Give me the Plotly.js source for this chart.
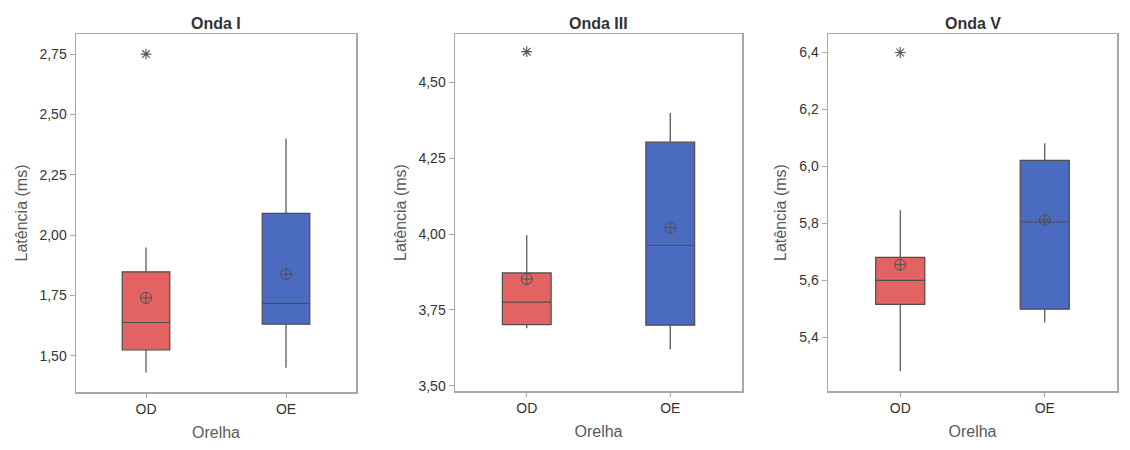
<!DOCTYPE html>
<html>
<head>
<meta charset="utf-8">
<script src="https://cdn.plot.ly/plotly-3.0.1.min.js"></script>
<style>
  html, body { margin: 0; padding: 0; background: #ffffff; }
  #chart { width: 1130px; height: 450px; }
  #edge { position: absolute; left: 5px; top: 6px; width: 1px; height: 436px; background: #fbf5b8; }
</style>
</head>
<body>
<div id="edge"></div>
<div id="chart"></div>
<script>
// ---- data ----
const ears = ['OD', 'OE'];
const waveTitles = ['Onda I', 'Onda III', 'Onda V'];

const ondaI_q1     = [1.524, 1.631];
const ondaI_median = [1.638, 1.717];
const ondaI_q3     = [1.848, 2.090];
const ondaI_low    = [1.431, 1.450];
const ondaI_high   = [1.949, 2.400];
const ondaI_mean   = [1.740, 1.838];
const ondaI_outX   = ['OD'];
const ondaI_outY   = [2.75];

const ondaIII_q1     = [3.702, 3.700];
const ondaIII_median = [3.776, 3.963];
const ondaIII_q3     = [3.872, 4.302];
const ondaIII_low    = [3.690, 3.620];
const ondaIII_high   = [3.996, 4.398];
const ondaIII_mean   = [3.852, 4.021];
const ondaIII_outX   = ['OD'];
const ondaIII_outY   = [4.60];

const ondaV_q1     = [5.516, 5.499];
const ondaV_median = [5.600, 5.805];
const ondaV_q3     = [5.681, 6.021];
const ondaV_low    = [5.282, 5.452];
const ondaV_high   = [5.847, 6.081];
const ondaV_mean   = [5.655, 5.812];
const ondaV_outX   = ['OD'];
const ondaV_outY   = [6.40];

const earColors = ['#e36262', '#4a6bc0'];

// ---- build ----
const W = 1130, H = 450;
const panels = [
  {q1: ondaI_q1, med: ondaI_median, q3: ondaI_q3, lo: ondaI_low, hi: ondaI_high, mean: ondaI_mean, ox: ondaI_outX, oy: ondaI_outY,
   px: [76, 356], py: [34, 392], range: [1.35, 2.833], tick0: 1.5, dtick: 0.25, fmt: '.2f'},
  {q1: ondaIII_q1, med: ondaIII_median, q3: ondaIII_q3, lo: ondaIII_low, hi: ondaIII_high, mean: ondaIII_mean, ox: ondaIII_outX, oy: ondaIII_outY,
   px: [455, 742], py: [34, 391], range: [3.4835, 4.658], tick0: 3.5, dtick: 0.25, fmt: '.2f'},
  {q1: ondaV_q1, med: ondaV_median, q3: ondaV_q3, lo: ondaV_low, hi: ondaV_high, mean: ondaV_mean, ox: ondaV_outX, oy: ondaV_outY,
   px: [828, 1117], py: [34, 391], range: [5.2116, 6.465], tick0: 5.4, dtick: 0.2, fmt: '.1f'}
];

const traces = [];
const layout = {
  width: W, height: H,
  margin: {l: 0, r: 0, t: 0, b: 0},
  paper_bgcolor: '#ffffff',
  plot_bgcolor: '#ffffff',
  showlegend: false,
  boxmode: 'overlay',
  separators: ',.',
  font: {family: 'Liberation Sans, Arial, sans-serif', color: '#333333'},
  annotations: []
};

panels.forEach((p, i) => {
  const n = i === 0 ? '' : String(i + 1);
  const xa = 'x' + n, ya = 'y' + n;
  ears.forEach((ear, j) => {
    traces.push({
      type: 'box', xaxis: xa, yaxis: ya,
      x: [ear],
      q1: [p.q1[j]], median: [p.med[j]], q3: [p.q3[j]],
      lowerfence: [p.lo[j]], upperfence: [p.hi[j]],
      width: 0.34, whiskerwidth: 0,
      fillcolor: earColors[j],
      line: {color: '#4d4d4d', width: 1.2},
      boxpoints: false,
      hoverinfo: 'skip'
    });
  });
  traces.push({
    type: 'scatter', mode: 'markers', xaxis: xa, yaxis: ya,
    x: ears, y: p.mean,
    marker: {symbol: 'circle-cross-open', size: 11, color: '#505050', line: {width: 1}},
    hoverinfo: 'skip'
  });
  traces.push({
    type: 'scatter', mode: 'markers', xaxis: xa, yaxis: ya,
    x: p.ox, y: p.oy,
    marker: {symbol: 'asterisk-open', size: 9, color: '#5a5a5a', line: {width: 1.2, color: '#5a5a5a'}},
    hoverinfo: 'skip'
  });

  layout['xaxis' + n] = {
    domain: [p.px[0] / W, p.px[1] / W],
    anchor: ya,
    type: 'category',
    categoryorder: 'array', categoryarray: ears,
    range: [-0.5, 1.5],
    showline: true, mirror: true, linecolor: '#a8a8a8', linewidth: 1.5,
    ticks: 'outside', ticklen: 4, tickcolor: '#a8a8a8',
    showgrid: false, zeroline: false,
    tickfont: {size: 14, color: '#333333'},
    title: {text: 'Orelha', font: {size: 16, color: '#5a5a5a'}, standoff: 10}
  };
  layout['yaxis' + n] = {
    domain: [1 - p.py[1] / H, 1 - p.py[0] / H],
    anchor: xa,
    range: p.range,
    tick0: p.tick0, dtick: p.dtick, tickformat: p.fmt,
    showline: true, mirror: true, linecolor: '#a8a8a8', linewidth: 1.5,
    ticks: 'outside', ticklen: 5, tickcolor: '#a8a8a8',
    showgrid: false, zeroline: false,
    tickfont: {size: 14, color: '#333333'},
    title: {text: 'Latência (ms)', font: {size: 16, color: '#5a5a5a'}, standoff: 8}
  };
  layout.annotations.push({
    text: '<b>' + waveTitles[i] + '</b>',
    xref: 'paper', yref: 'paper',
    x: (p.px[0] + p.px[1]) / 2 / W, y: 1 - p.py[0] / H,
    xanchor: 'center', yanchor: 'bottom', yshift: 0,
    showarrow: false,
    font: {size: 16, color: '#333333', family: 'Liberation Sans, Arial, sans-serif'}
  });
});

Plotly.newPlot('chart', traces, layout, {displayModeBar: false, staticPlot: true});
</script>
</body>
</html>
